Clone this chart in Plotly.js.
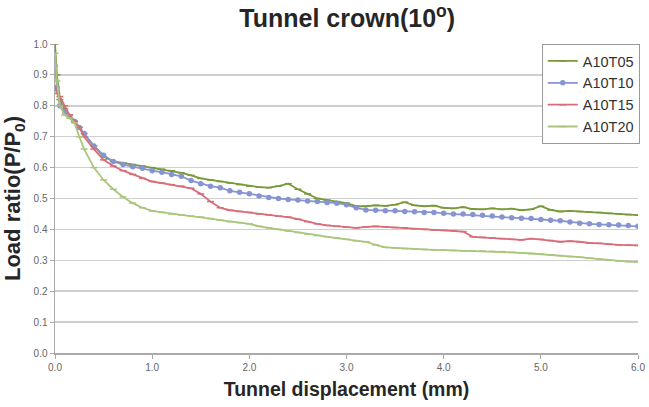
<!DOCTYPE html>
<html><head><meta charset="utf-8">
<script src="https://cdn.plot.ly/plotly-3.0.1.min.js"></script>
<style>html,body{margin:0;padding:0;background:#fff}</style>
</head><body><div id="chart" style="width:649px;height:407px"></div>
<script>
const seriesNames = ["A10T05","A10T10","A10T15","A10T20"];
const displacement = [0,0.02,0.05,0.1,0.15,0.2,0.25,0.3,0.4,0.5,0.6,0.7,0.8,0.9,1.0,1.1,1.2,1.3,1.4,1.5,1.6,1.7,1.8,1.9,2.0,2.1,2.2,2.3,2.4,2.5,2.6,2.7,2.8,2.9,3.0,3.1,3.2,3.3,3.4,3.5,3.6,3.7,3.8,3.9,4.0,4.1,4.2,4.3,4.4,4.5,4.6,4.7,4.8,4.9,5.0,5.1,5.2,5.3,5.4,5.5,5.6,5.7,5.8,5.9,6.0];
const a10t05 = [1.00,0.90,0.82,0.79,0.77,0.75,0.73,0.71,0.67,0.635,0.62,0.615,0.61,0.605,0.60,0.595,0.59,0.583,0.575,0.565,0.56,0.555,0.55,0.545,0.54,0.537,0.535,0.54,0.548,0.53,0.515,0.50,0.495,0.49,0.485,0.475,0.475,0.478,0.476,0.48,0.488,0.478,0.475,0.477,0.47,0.468,0.472,0.466,0.465,0.468,0.465,0.467,0.462,0.465,0.475,0.463,0.458,0.46,0.458,0.456,0.455,0.452,0.45,0.448,0.446];
const a10t10 = [0.93,0.86,0.80,0.78,0.765,0.75,0.73,0.71,0.67,0.64,0.62,0.61,0.603,0.598,0.59,0.585,0.578,0.572,0.558,0.548,0.54,0.535,0.525,0.52,0.515,0.508,0.503,0.50,0.497,0.495,0.492,0.49,0.487,0.485,0.48,0.47,0.463,0.462,0.46,0.46,0.458,0.457,0.455,0.455,0.452,0.45,0.45,0.448,0.446,0.443,0.44,0.438,0.436,0.435,0.432,0.43,0.428,0.424,0.42,0.418,0.416,0.415,0.414,0.413,0.41];
const a10t15 = [0.86,0.84,0.83,0.80,0.77,0.75,0.73,0.70,0.66,0.625,0.605,0.59,0.578,0.565,0.555,0.55,0.545,0.54,0.533,0.515,0.49,0.47,0.462,0.458,0.455,0.45,0.447,0.443,0.44,0.433,0.425,0.418,0.413,0.41,0.407,0.405,0.408,0.41,0.408,0.406,0.405,0.402,0.40,0.398,0.397,0.396,0.393,0.376,0.374,0.372,0.37,0.368,0.366,0.37,0.368,0.364,0.36,0.362,0.36,0.356,0.355,0.352,0.35,0.349,0.348];
const a10t20 = [0.97,0.88,0.80,0.77,0.76,0.745,0.70,0.66,0.60,0.56,0.53,0.505,0.485,0.47,0.46,0.455,0.45,0.447,0.443,0.44,0.435,0.43,0.425,0.422,0.418,0.41,0.405,0.40,0.395,0.39,0.385,0.38,0.376,0.372,0.368,0.363,0.36,0.35,0.342,0.34,0.338,0.337,0.335,0.334,0.333,0.332,0.331,0.33,0.33,0.329,0.328,0.326,0.324,0.322,0.32,0.318,0.315,0.312,0.31,0.307,0.304,0.30,0.298,0.296,0.295];

const allValues = [a10t05,a10t10,a10t15,a10t20];
const colors = ["#789a38","#8794d2","#d86d7a","#a9c67c"];
const symbols = ["line-ew","circle","line-ew","line-ew"];

const traces = seriesNames.map((n,i)=>({
  x: displacement, y: allValues[i], name: n, type:"scatter", mode:"lines+markers",
  line:{color:colors[i], width:1.8},
  marker:{color:colors[i], size: i===1?4:5, symbol:symbols[i], line:{color:colors[i], width:1.5}}
}));

const titleFont = "Liberation Sans, Arial, sans-serif";
const layout = {
  width:649, height:407,
  margin:{l:55,r:9,t:44,b:54},
  paper_bgcolor:"#fff", plot_bgcolor:"#fff",
  font:{family:"Liberation Sans, Arial, sans-serif", color:"#555"},
  title:{text:"<b>Tunnel crown(10<sup>o</sup>)</b>", x:0.535, xanchor:"center", y:0.955, yanchor:"middle",
         font:{size:25, color:"#262626", family:titleFont}},
  xaxis:{range:[0,6], dtick:1, tick0:0, tickformat:".1f", showgrid:false, zeroline:false,
         showline:true, linecolor:"#aaa", linewidth:1.5, ticks:"outside", ticklen:4, tickcolor:"#aaa",
         tickfont:{size:10, color:"#666"},
         title:{text:"<b>Tunnel displacement (mm)</b>", standoff:11, font:{size:19.5, color:"#262626", family:titleFont}}},
  yaxis:{range:[0,1.0], dtick:0.1, tick0:0, tickformat:".1f", showgrid:true, gridcolor:"#cfcfcf", gridwidth:1.5,
         zeroline:false, showline:true, linecolor:"#aaa", linewidth:1.5, ticks:"outside", ticklen:4, tickcolor:"#aaa",
         tickfont:{size:10, color:"#666"},
         title:{text:"<b>Load ratio(P/P<sub>0</sub>)</b>", standoff:8, font:{size:22, color:"#262626", family:titleFont}}},
  legend:{x:1.003, xanchor:"right", y:1.0, yanchor:"top", bgcolor:"#fff", bordercolor:"#999", borderwidth:1,
          font:{size:14.5, color:"#333"}, itemwidth:30, tracegroupgap:0},
  showlegend:true
};
Plotly.newPlot("chart", traces, layout, {displayModeBar:false, staticPlot:true});
</script></body></html>
